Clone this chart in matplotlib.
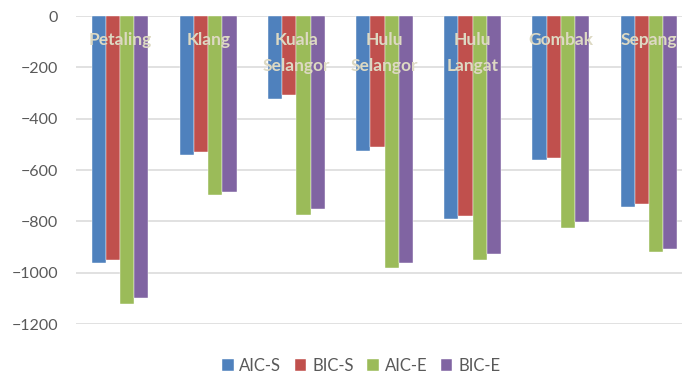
import numpy as np
import matplotlib.pyplot as plt

districts = ["Petaling", "Klang", "Kuala\nSelangor", "Hulu\nSelangor",
             "Hulu\nLangat", "Gombak", "Sepang"]
series = ["AIC-S", "BIC-S", "AIC-E", "BIC-E"]
aic_s = [-961, -540, -322, -525, -790, -562, -744]
bic_s = [-952, -531, -309, -510, -778, -552, -732]
aic_e = [-1123, -698, -776, -980, -949, -826, -920]
bic_e = [-1100, -684, -753, -963, -928, -802, -909]
colors = ["#4F81BD", "#C0504D", "#9BBB59", "#8064A2"]

plt.rcParams['font.family'] = ['Lato', 'DejaVu Sans']

fig = plt.figure(figsize=(6.82, 3.77), dpi=100)
ax = fig.add_axes([76 / 682, 1 - 324 / 377, 617 / 682, 308 / 377])

x = np.arange(len(districts))
w = 0.161
for i, (name, vals) in enumerate(zip(series, [aic_s, bic_s, aic_e, bic_e])):
    ax.bar(x + (i - 1.5) * w, vals, w, color=colors[i], label=name,
           edgecolor='white', linewidth=0.3, zorder=2)

ax.set_xlim(-0.5, len(districts) - 0.5)
ax.set_ylim(-1200, 0)
ax.set_yticks(range(-1200, 1, 200))
ax.yaxis.grid(True, color='#D9D9D9', linewidth=1.1, zorder=0)
ax.set_axisbelow(True)
for s in ax.spines.values():
    s.set_visible(False)
ax.tick_params(axis='y', length=0, pad=13, labelsize=11.5, labelcolor='#595959')
ax.set_xticks([])

# category names sit just under the zero line, over the bars
for xi, name in zip(x, districts):
    ax.annotate(name, (xi, 0), xytext=(0, -16), textcoords='offset pixels',
                ha='center', va='top', fontsize=12.5, fontweight='bold',
                color='#DDD9C3', linespacing=1.8, zorder=3)

fig.legend(loc='center', bbox_to_anchor=(361 / 682, 1 - 366 / 377), ncol=4,
           frameon=False, fontsize=12, labelcolor='#595959',
           handlelength=0.7, handleheight=0.7, handletextpad=0.35,
           columnspacing=0.8)

fig.savefig("out.png", dpi=100)
